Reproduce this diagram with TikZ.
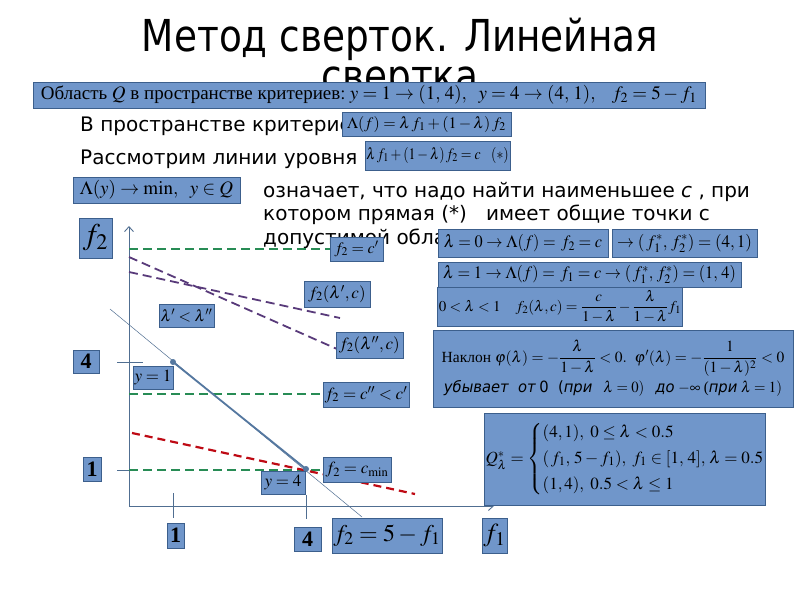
\documentclass[tikz,border=0pt]{standalone}
\usepackage{amsmath}
\usepackage{graphicx}
\usepackage{mathptmx}
\usepackage[no-math]{fontspec}
\setmainfont{Liberation Serif}
\newfontfamily\bodyfont{DejaVu Sans}
\newfontfamily\titlefont[FakeStretch=0.85]{DejaVu Sans}
\usetikzlibrary{arrows.meta}
\newcommand\hsq[2]{\scalebox{#1}[1]{#2}}
\definecolor{bxfill}{RGB}{112,150,202}
\definecolor{bxedge}{RGB}{60,95,140}
\definecolor{axcol}{RGB}{80,110,145}
\definecolor{segcol}{RGB}{85,120,160}
\definecolor{gcol}{RGB}{40,140,85}
\definecolor{pcol}{RGB}{88,58,122}
\definecolor{rcol}{RGB}{190,10,20}
\tikzset{
 bx/.style={draw=bxedge, fill=bxfill, line width=0.7pt, inner sep=1pt, align=center, text=black, font=\fontsize{16}{19}\selectfont},
 gdash/.style={draw=gcol, line width=1.8pt, dash pattern=on 9pt off 5pt},
 pdash/.style={draw=pcol, line width=1.8pt, dash pattern=on 9pt off 5pt},
 rdash/.style={draw=rcol, line width=2.2pt, dash pattern=on 8pt off 5pt},
 axis/.style={draw=axcol, line width=0.9pt},
 thinln/.style={draw=axcol, line width=0.5pt},
 seg/.style={draw=segcol, line width=1.8pt},
 dot/.style={circle, fill=segcol, inner sep=0pt, minimum size=6pt},
 body/.style={font=\bodyfont\fontsize{20}{24}\selectfont, inner sep=0pt},
 ttl/.style={font=\titlefont\fontsize{44}{50}\selectfont, inner sep=0pt},
}
\begin{document}
\begin{tikzpicture}[x=1pt,y=-1pt]
\useasboundingbox (0,0) rectangle (800,600);
\fill[white] (0,0) rectangle (800,600);
% title
\node[ttl, anchor=base] (t1) at (400,51) {Метод сверток. Линейная};
\node[ttl, anchor=base] (t2) at (400,91) {свертка};
% body text
\node[body, anchor=base west] (b1) at (80,131) {В пространстве критериев};
\node[body, anchor=base west] (b2) at (80,164) {Рассмотрим линии уровня};
\node[body, anchor=base west] (p1) at (263,197) {означает, что надо найти наименьшее {\itshape c} , при};
\node[body, anchor=base west] (p2) at (263,220) {котором прямая (*)\ \ \ имеет общие точки с};
\node[body, anchor=base west] (p3) at (263,244) {допустимой области};
% top boxes
\node[bx, minimum width=672pt, minimum height=26pt, font=\fontsize{19}{22}\selectfont] (A) at (369,95)
 {Область $Q$ в пространстве критериев$:y=1\to(1,\,4),\ \ y=4\to(4,\,1),\ \ \ f_2=5-f_1$};
\node[bx, minimum width=169pt, minimum height=24pt] (B) at (426.5,124) {$\Lambda(f)=\lambda\,f_1+(1-\lambda)\,f_2$};
\node[bx, minimum width=145pt, minimum height=29pt, font=\fontsize{16}{18}\selectfont] (C) at (437.5,155.5) {\hsq{0.86}{$\lambda\,f_1+(1-\lambda)\,f_2=c\ \ \ (*)$}};
\node[bx, minimum width=167pt, minimum height=26pt, font=\fontsize{19}{21}\selectfont] (D) at (156.5,190) {$\Lambda(y)\to\min,\ \ y\in Q$};
% axes
\coordinate (O) at (129,506);
\coordinate (Ytop) at (129,226);
\coordinate (Xend) at (494,506);
\draw[axis, -{Straight Barb[length=5pt,width=9pt]}] (O) -- (Ytop);
\draw[axis, -{Straight Barb[length=5pt,width=9pt]}] (O) -- (Xend);
% ticks
\coordinate (ty4a) at (117,362); \coordinate (ty4b) at (143,362);
\coordinate (ty1a) at (117,470); \coordinate (ty1b) at (129,470);
\coordinate (tx1a) at (173,493); \coordinate (tx1b) at (173,518);
\coordinate (tx4a) at (306,495); \coordinate (tx4b) at (306,519);
\draw[thinln, line width=0.7pt] (ty4a) -- (ty4b);
\draw[thinln, line width=0.7pt] (ty1a) -- (ty1b);
\draw[thinln, line width=0.7pt] (tx1a) -- (tx1b);
\draw[thinln, line width=0.7pt] (tx4a) -- (tx4b);
% level lines
\coordinate (g1a) at (129,249); \coordinate (g1b) at (331,249);
\coordinate (g2a) at (129,394); \coordinate (g2b) at (324,394);
\coordinate (g3a) at (129,470); \coordinate (g3b) at (324,470);
\draw[gdash] (g1a) -- (g1b);
\draw[gdash] (g2a) -- (g2b);
\draw[gdash] (g3a) -- (g3b);
\coordinate (p1a) at (129,272); \coordinate (p1b) at (340,318);
\coordinate (p2a) at (129,257); \coordinate (p2b) at (337,349);
\draw[pdash] (p1a) -- (p1b);
\draw[pdash] (p2a) -- (p2b);
\coordinate (ra) at (132,433); \coordinate (rb) at (415,494);
\draw[rdash] (ra) -- (rb);
% feasible line
\coordinate (la) at (110,309); \coordinate (lb) at (362,517);
\draw[thinln] (la) -- (lb);
\node[dot] (P14) at (173,362) {};
\node[dot] (P41) at (306,469) {};
\draw[seg] (P14.center) -- (P41.center);
% graph labels
\node[bx, minimum width=33pt, minimum height=40pt, font=\fontsize{30}{34}\selectfont] (lf2) at (95.5,238) {$f_2$};
\node[bx, minimum width=26pt, minimum height=23pt, font=\bfseries\fontsize{22}{24}\selectfont] (l4y) at (86,361.5) {4};
\node[bx, minimum width=18pt, minimum height=24pt, font=\bfseries\fontsize{22}{24}\selectfont] (l1y) at (92,469) {1};
\node[bx, minimum width=17pt, minimum height=25pt, font=\bfseries\fontsize{22}{24}\selectfont] (l1x) at (175.5,535.5) {1};
\node[bx, minimum width=27pt, minimum height=24pt, font=\bfseries\fontsize{22}{24}\selectfont] (l4x) at (307.5,539) {4};
\node[bx, minimum width=110pt, minimum height=35pt, font=\fontsize{24}{28}\selectfont] (lline) at (387,535.5) {$f_2=5-f_1$};
\node[bx, minimum width=25pt, minimum height=35pt, font=\fontsize{26}{30}\selectfont] (lf1) at (494.5,535.5) {$f_1$};
\node[bx, minimum width=53pt, minimum height=24pt] (lc1) at (356.5,249) {$f_2=c'$};
\node[bx, minimum width=66pt, minimum height=26pt, font=\fontsize{17}{20}\selectfont] (lfl1) at (337,294) {$f_2(\lambda',c)$};
\node[bx, minimum width=55pt, minimum height=23pt] (llam) at (186.5,315.5) {$\lambda'<\lambda''$};
\node[bx, minimum width=67pt, minimum height=26pt, font=\fontsize{17}{20}\selectfont] (lfl2) at (369.5,345) {$f_2(\lambda'',c)$};
\node[bx, minimum width=40pt, minimum height=23pt, font=\fontsize{17}{20}\selectfont] (ly1) at (153,377.5) {$y=1$};
\node[bx, minimum width=86pt, minimum height=25pt, font=\fontsize{17}{20}\selectfont] (lc2) at (366,394.5) {$f_2=c''<c'$};
\node[bx, minimum width=68pt, minimum height=25pt, font=\fontsize{17}{20}\selectfont] (lcm) at (357,469.5) {$f_2=c_{\min}$};
\node[bx, minimum width=44pt, minimum height=23pt, font=\fontsize{17}{20}\selectfont] (ly4) at (283,482.5) {$y=4$};
% right boxes
\node[bx, minimum width=170pt, minimum height=28pt, font=\fontsize{17.5}{20}\selectfont] (R0) at (523,243) {\hsq{0.93}{\boldmath$\lambda=0\to\Lambda(f)=\,f_2=c$}};
\node[bx, minimum width=145pt, minimum height=28pt, font=\fontsize{17.5}{20}\selectfont] (R0b) at (684.5,243) {\hsq{0.97}{\boldmath$\to(\,f_1^*,\,f_2^*)=(4,1)$}};
\node[bx, minimum width=303pt, minimum height=25pt, font=\fontsize{17.5}{20}\selectfont] (R1) at (589.5,274.5) {\hsq{0.93}{\boldmath$\lambda=1\to\Lambda(f)=\,f_1=c\to(\,f_1^*,\,f_2^*)=(1,\,4)$}};
\node[bx, minimum width=244pt, minimum height=39pt, font=\fontsize{15}{18}\selectfont] (R2) at (560,306.5) {$0<\lambda<1\quad f_2(\lambda,c)=\dfrac{c}{1-\lambda}-\dfrac{\lambda}{1-\lambda}f_1$};
\node[bx, minimum width=360pt, minimum height=77pt, font=\fontsize{15.5}{18}\selectfont] (R3) at (613,368.5)
 {Наклон $\varphi(\lambda)=-\dfrac{\lambda}{1-\lambda}<0.\ \ \varphi'(\lambda)=-\dfrac{1}{(1-\lambda)^2}<0$\\[3pt]
  \hsq{0.95}{{\bodyfont\itshape убывает\ \ от} {\bodyfont 0\ \ (}{\bodyfont\itshape при}\ \ \ $\lambda=0)$\ \ \ {\bodyfont\itshape до} $-\infty$ ({\bodyfont\itshape при} $\lambda=1)$}};
\node[bx, minimum width=276pt, minimum height=92pt, font=\fontsize{17}{20}\selectfont] (R4) at (625,459)
 {$Q^*_\lambda=\left\{\begin{array}{@{}l@{}}(4,1),\ 0\le\lambda<0.5\\[6pt](\,f_1,\,5-f_1),\ f_1\in[1,\,4],\,\lambda=0.5\\[6pt](1,4),\ 0.5<\lambda\le1\end{array}\right.$};
\end{tikzpicture}
\end{document}
